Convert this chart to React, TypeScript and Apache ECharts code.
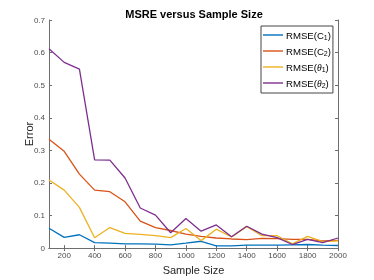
import React, { useEffect, useRef } from "react";
import * as echarts from "echarts";

const sampleSizes = [100, 200, 300, 400, 500, 600, 700, 800, 900, 1000, 1100, 1200, 1300, 1400, 1500, 1600, 1700, 1800, 1900, 2000];
const rmseC1 = [0.061, 0.033, 0.041, 0.017, 0.015, 0.013, 0.013, 0.012, 0.010, 0.015, 0.021, 0.007, 0.007, 0.009, 0.009, 0.009, 0.010, 0.011, 0.009, 0.008];
const rmseC2 = [0.334, 0.297, 0.227, 0.178, 0.173, 0.142, 0.083, 0.063, 0.054, 0.043, 0.036, 0.031, 0.028, 0.026, 0.030, 0.029, 0.027, 0.027, 0.022, 0.024];
const rmseT1 = [0.209, 0.178, 0.125, 0.032, 0.063, 0.045, 0.042, 0.038, 0.032, 0.060, 0.023, 0.058, 0.034, 0.066, 0.038, 0.038, 0.013, 0.036, 0.020, 0.022];
const rmseT2 = [0.612, 0.570, 0.549, 0.271, 0.270, 0.215, 0.123, 0.101, 0.047, 0.091, 0.052, 0.071, 0.035, 0.067, 0.043, 0.032, 0.011, 0.027, 0.017, 0.031];
const xTicks = [200, 400, 600, 800, 1000, 1200, 1400, 1600, 1800, 2000];
const seriesNames = ["RMSE(C_1)", "RMSE(C_2)", "RMSE(θ_1)", "RMSE(θ_2)"];
const colors = ["#0072BD", "#D95319", "#EDB120", "#7E2F8E"];

export default function App() {
  const ref = useRef<HTMLDivElement>(null);
  useEffect(() => {
    if (!ref.current) return;
    const chart = echarts.init(ref.current, undefined, { renderer: "svg" });
    const allData = [rmseC1, rmseC2, rmseT1, rmseT2];
    const font = "Liberation Sans, Arial, sans-serif";
    const axisLine = { show: true, lineStyle: { color: "#6e6e6e", width: 1 } };
    const tickStyle = { inside: true, length: 3, lineStyle: { color: "#6e6e6e" } };
    chart.setOption({
      animation: false,
      color: colors,
      title: {
        text: "MSRE versus Sample Size",
        left: 194,
        top: 8,
        padding: 0,
        textAlign: "center",
        textStyle: { fontSize: 11, fontWeight: "bold", color: "#000", fontFamily: font },
      },
      grid: { left: 49, right: 36, top: 20, bottom: 31, containLabel: false },
      legend: {
        orient: "vertical",
        left: 261,
        top: 26,
        padding: [4, 2, 4, 2],
        itemGap: 5,
        itemWidth: 20,
        itemHeight: 12,
        icon: "path://M0,5.3 L20,5.3 L20,6.7 L0,6.7 Z",
        borderColor: "#444",
        borderWidth: 1,
        backgroundColor: "#fff",
        data: seriesNames,
        formatter: (name: string) => {
          const parts = name.split("_");
          const base = parts[0];
          const sub = parts[1].replace(")", "");
          if (base.includes("θ")) {
            return "RMSE({it|θ}{sub|" + sub + "})";
          }
          return base + "{sub|" + sub + "})";
        },
        textStyle: {
          fontSize: 9.6,
          color: "#000",
          fontFamily: font,
          padding: [0, 0, 0, -2],
          rich: {
            sub: { fontSize: 7, verticalAlign: "bottom", padding: [5, 0, 0, 0], fontFamily: font, color: "#000" },
            it: { fontSize: 9.6, fontStyle: "italic", fontFamily: "Liberation Serif, serif", color: "#000" },
          },
        },
      },
      xAxis: [
        {
          type: "value",
          min: 100,
          max: 2000,
          name: "Sample Size",
          nameLocation: "middle",
          nameGap: 11,
          nameTextStyle: { fontSize: 11, color: "#262626", fontFamily: font },
          axisLine,
          axisTick: { ...tickStyle, customValues: xTicks },
          axisLabel: { customValues: xTicks, fontSize: 8, color: "#4d4d4d", margin: 3, fontFamily: font, formatter: (v: number) => String(v) },
          splitLine: { show: false },
        },
        {
          type: "value",
          position: "top",
          min: 100,
          max: 2000,
          axisLine,
          axisTick: { ...tickStyle, customValues: xTicks },
          axisLabel: { show: false, customValues: xTicks },
          splitLine: { show: false },
        },
      ],
      yAxis: [
        {
          type: "value",
          min: 0,
          max: 0.7,
          interval: 0.1,
          name: "Error",
          nameLocation: "middle",
          nameGap: 15,
          nameMoveOverlap: false,
          nameTextStyle: { fontSize: 11, color: "#262626", fontFamily: font },
          axisLine,
          axisTick: tickStyle,
          axisLabel: { fontSize: 8, color: "#4d4d4d", margin: 4, fontFamily: font, formatter: (v: number) => String(Math.round(v * 10) / 10) },
          splitLine: { show: false },
        },
        {
          type: "value",
          position: "right",
          min: 0,
          max: 0.7,
          interval: 0.1,
          axisLine,
          axisTick: tickStyle,
          axisLabel: { show: false },
          splitLine: { show: false },
        },
      ],
      series: seriesNames.map((name, i) => ({
        name,
        type: "line",
        xAxisIndex: 0,
        yAxisIndex: 0,
        symbol: "none",
        lineStyle: { width: 1.3, color: colors[i] },
        itemStyle: { color: colors[i] },
        data: sampleSizes.map((x, j) => [x, allData[i][j]]),
      })),
    });
    return () => chart.dispose();
  }, []);
  return <div ref={ref} style={{ position: "fixed", left: 0, top: 0, width: 374, height: 280 }} />;
}
